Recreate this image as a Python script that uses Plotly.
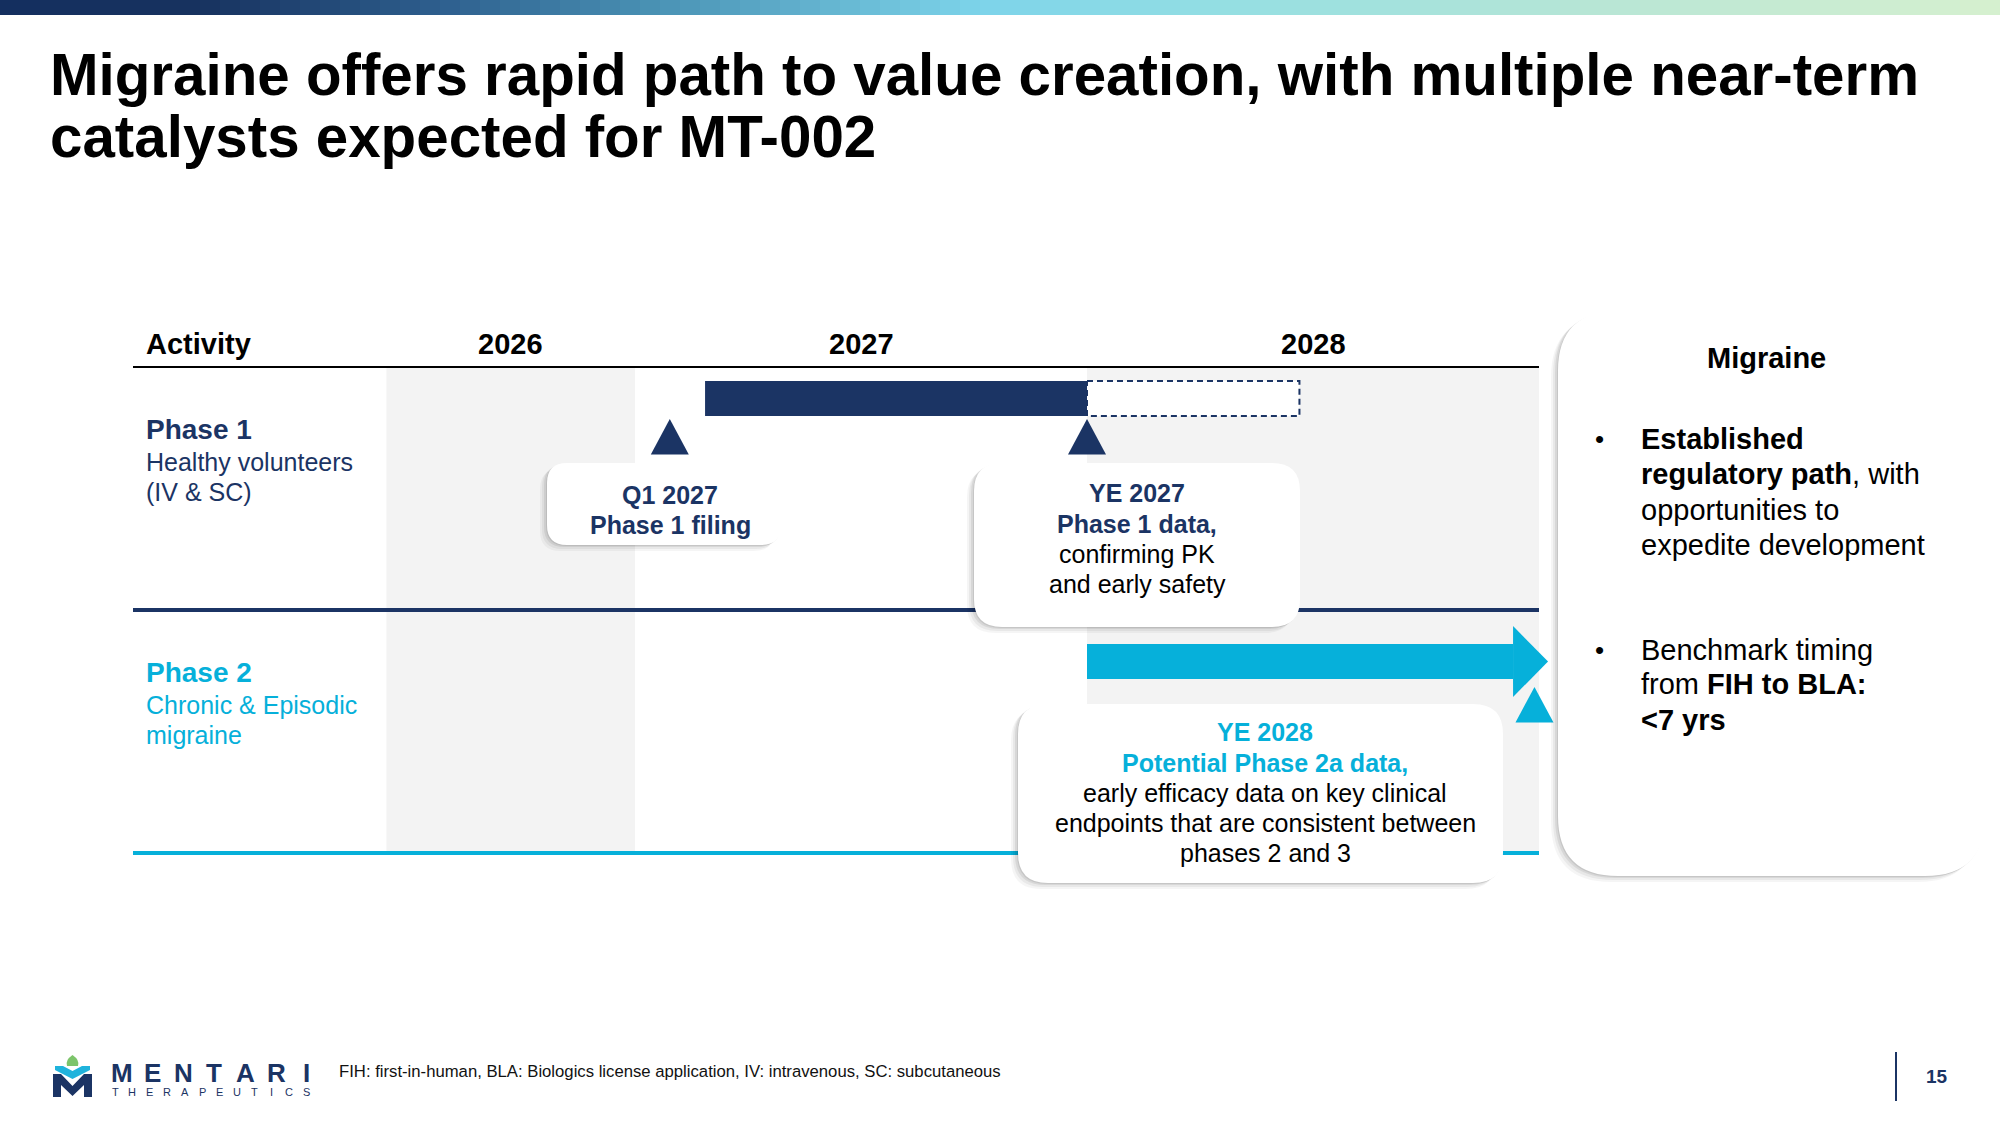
import plotly.graph_objects as go

# ---- data ---------------------------------------------------------------
title_lines = [
    "Migraine offers rapid path to value creation, with multiple near-term",
    "catalysts expected for MT-002",
]

years = ["2026", "2027", "2028"]
year_start = [2026.45, 2027.0, 2028.0]
year_end = [2027.0, 2028.0, 2029.0]
year_shaded = [True, False, True]

phases = ["Phase 1", "Phase 2"]
phase_desc = [["Healthy volunteers", "(IV & SC)"], ["Chronic & Episodic", "migraine"]]

# phase 1: ongoing (solid) then planned (dashed)
p1_start = 2027.155
p1_end = 2028.0
p1_planned_end = 2028.47
# phase 2: arrow that runs past the end of the timeline
p2_start = 2028.0
p2_end = 2029.02

milestone_dates = [2027.077, 2028.0, 2028.99]
milestone_rows = [0, 0, 1]
milestone_text = [
    ["<b>Q1 2027</b>", "<b>Phase 1 filing</b>"],
    ["<b>YE 2027</b>", "<b>Phase 1 data,</b>", "confirming PK", "and early safety"],
    ["<b>YE 2028</b>", "<b>Potential Phase 2a data,</b>", "early efficacy data on key clinical",
     "endpoints that are consistent between", "phases 2 and 3"],
]

panel_title = "Migraine"
panel_bullets = [
    ["<b>Established</b>", "<b>regulatory path</b>, with", "opportunities to", "expedite development"],
    ["Benchmark timing", "from <b>FIH to BLA:</b>", "<b>&lt;7 yrs</b>"],
]

footnote = "FIH: first-in-human, BLA: Biologics license application, IV: intravenous, SC: subcutaneous"
page_no = "15"

# ---- styling / layout ----------------------------------------------------
W, H = 2000, 1125
NAVY = "#1b3464"
CYAN = "#06b0da"
SHADE = "#f3f3f3"
FONT = "Liberation Sans, Arial, sans-serif"
phase_colors = [NAVY, CYAN]

# the axes cover the whole canvas: x in years, y in timeline rows (0 = top of phase 1)
PX_YR, X_2027 = 452.0, 635.0
PX_ROW, Y_ROW0 = 243.0, 367.0


def X(px):
    return 2027 + (px - X_2027) / PX_YR


def Y(px):
    return (px - Y_ROW0) / PX_ROW


def rounded(x0, x1, y0, y1, r):
    rx, ry = r / PX_YR, r / PX_ROW
    return (f"M{x0 + rx},{y0} L{x1 - rx},{y0} Q{x1},{y0} {x1},{y0 + ry} "
            f"L{x1},{y1 - ry} Q{x1},{y1} {x1 - rx},{y1} L{x0 + rx},{y1} "
            f"Q{x0},{y1} {x0},{y1 - ry} L{x0},{y0 + ry} Q{x0},{y0} {x0 + rx},{y0} Z")


def ppath(pts):
    return "M" + " L".join(f"{x / W},{1 - y / H}" for x, y in pts) + " Z"


BAR_H = 0.144
BAR_OFFSET = [0.13, 0.212]
TRI_OFFSET = [0.214, 0.317]
TRI_H = 0.146
TRI_HALF = 19 / PX_YR
HEAD_LEN = 35 / PX_YR
HEAD_HALF = 0.146
LEFT_TXT = 144  # left edge of row labels (px)

# callout boxes (pixel boxes, text centre, line positions)
callouts = [
    dict(box=(547, 781, 463, 545), r=20, cx=670, ly=[495, 525]),
    dict(box=(974, 1300, 463, 627), r=28, cx=1137, ly=[493, 524, 554, 584]),
    dict(box=(1018, 1503, 704, 883), r=30, cx=1265, ly=[732, 763, 793, 823, 853]),
]

fig = go.Figure()
shapes = []
ann = []

# top gradient band
stops = [(0, (20, 47, 95)), (0.1, (23, 50, 95)), (0.22, (46, 95, 142)), (0.33, (74, 147, 181)),
         (0.49, (125, 212, 234)), (0.62, (150, 223, 226)), (0.8, (184, 230, 213)), (1.0, (214, 240, 207))]


def grad(t):
    for (t0, c0), (t1, c1) in zip(stops[:-1], stops[1:]):
        if t <= t1:
            f = (t - t0) / (t1 - t0)
            return "rgb(%d,%d,%d)" % tuple(round(a + (b - a) * f) for a, b in zip(c0, c1))
    return "rgb(%d,%d,%d)" % stops[-1][1]


n = 100
for i in range(n):
    shapes.append(dict(type="rect", xref="paper", yref="paper", x0=i / n, x1=(i + 1) / n + 0.002,
                       y0=1 - 15 / H, y1=1, fillcolor=grad((i + 0.5) / n), line_width=0, layer="below"))

# title
for i, line in enumerate(title_lines):
    ann.append(dict(text=f"<b>{line}</b>", xref="paper", yref="paper", x=48 / W, y=1 - (75 + 62 * i) / H,
                    xanchor="left", yanchor="middle", showarrow=False,
                    font=dict(family=FONT, size=58.3, color="#000000")))

# shaded year columns
for s, e, sh in zip(year_start, year_end, year_shaded):
    if sh:
        shapes.append(dict(type="rect", xref="x", yref="y", x0=s, x1=e, y0=0, y1=2,
                           fillcolor=SHADE, line_width=0, layer="below"))

# header + row lines
t_left = X(133)
shapes.append(dict(type="line", xref="x", yref="y", x0=t_left, x1=year_end[-1], y0=0, y1=0,
                   line=dict(color="#000000", width=2), layer="below"))
for r, c in enumerate(phase_colors):
    shapes.append(dict(type="line", xref="x", yref="y", x0=t_left, x1=year_end[-1], y0=r + 1, y1=r + 1,
                       line=dict(color=c, width=4), layer="below"))

# header labels
hdr_y = Y(344)
ann.append(dict(text="<b>Activity</b>", x=X(LEFT_TXT), y=hdr_y, xanchor="left", yanchor="middle",
                xref="x", yref="y", showarrow=False, font=dict(family=FONT, size=29, color="#000000")))
for yl, s, e in zip(years, year_start, year_end):
    ann.append(dict(text=f"<b>{yl}</b>", x=(s + e) / 2, y=hdr_y, xanchor="center", yanchor="middle",
                    xref="x", yref="y", showarrow=False, font=dict(family=FONT, size=29, color="#000000")))

# phase labels
for r, (name, desc) in enumerate(zip(phases, phase_desc)):
    c = phase_colors[r]
    ann.append(dict(text=f"<b>{name}</b>", x=X(LEFT_TXT), y=r + 0.259, xanchor="left", yanchor="middle",
                    xref="x", yref="y", showarrow=False, font=dict(family=FONT, size=28, color=c)))
    for k, d in enumerate(desc):
        ann.append(dict(text=d, x=X(LEFT_TXT), y=r + 0.391 + 0.125 * k, xanchor="left", yanchor="middle",
                        xref="x", yref="y", showarrow=False, font=dict(family=FONT, size=25, color=c)))

# phase 1 bar (solid) + planned extension (dashed)
fig.add_trace(go.Bar(orientation="h", y=[BAR_OFFSET[0]], x=[p1_end - p1_start], base=[p1_start],
                     width=BAR_H, marker=dict(color=NAVY, line_width=0), hoverinfo="skip"))
b0, b1 = BAR_OFFSET[0] - BAR_H / 2, BAR_OFFSET[0] + BAR_H / 2
fig.add_trace(go.Scatter(x=[p1_end, p1_planned_end, p1_planned_end, p1_end, p1_end],
                         y=[b0, b0, b1, b1, b0], mode="lines", fill="toself", fillcolor="#ffffff",
                         line=dict(color=NAVY, width=2, dash="6px,4px"), hoverinfo="skip"))

# phase 2 arrow
fig.add_trace(go.Bar(orientation="h", y=[1 + BAR_OFFSET[1]], x=[p2_end - HEAD_LEN - p2_start], base=[p2_start],
                     width=BAR_H, marker=dict(color=CYAN, line_width=0), hoverinfo="skip"))
yc = 1 + BAR_OFFSET[1]
fig.add_trace(go.Scatter(x=[p2_end - HEAD_LEN, p2_end, p2_end - HEAD_LEN, p2_end - HEAD_LEN],
                         y=[yc - HEAD_HALF, yc, yc + HEAD_HALF, yc - HEAD_HALF],
                         fill="toself", fillcolor=CYAN, mode="lines", line=dict(width=0, color=CYAN),
                         hoverinfo="skip"))

# milestone triangles
for d, r in zip(milestone_dates, milestone_rows):
    top = r + TRI_OFFSET[r]
    fig.add_trace(go.Scatter(x=[d - TRI_HALF, d, d + TRI_HALF, d - TRI_HALF],
                             y=[top + TRI_H, top, top + TRI_H, top + TRI_H],
                             fill="toself", fillcolor=phase_colors[r], mode="lines",
                             line=dict(width=0, color=phase_colors[r]), hoverinfo="skip"))


def card(x0, x1, y0, y1, r, xref="x", yref="y"):
    out = []
    for ox, oy, a in [(-7, 6, 0.04), (-5, 4, 0.05), (-3, 2, 0.07), (-1, 1, 0.08)]:
        out.append(dict(type="path", xref=xref, yref=yref,
                        path=rounded(X(x0 + ox), X(x1 + ox), Y(y0 + oy), Y(y1 + oy), r),
                        fillcolor=f"rgba(0,0,0,{a})", line_width=0))
    out.append(dict(type="path", xref=xref, yref=yref, path=rounded(X(x0), X(x1), Y(y0), Y(y1), r),
                    fillcolor="#ffffff", line_width=0))
    return out


# callouts
for co, lines, r in zip(callouts, milestone_text, milestone_rows):
    x0, x1, y0, y1 = co["box"]
    shapes += card(x0, x1, y0, y1, co["r"])
    for txt, ly in zip(lines, co["ly"]):
        c = phase_colors[r] if txt.startswith("<b>") else "#000000"
        ann.append(dict(text=txt, x=X(co["cx"]), y=Y(ly), xanchor="center", yanchor="middle",
                        xref="x", yref="y", showarrow=False, font=dict(family=FONT, size=25, color=c)))

# right summary panel
shapes += card(1558, 1985, 311, 876, 60)
ann.append(dict(text=f"<b>{panel_title}</b>", x=X(1766), y=Y(358), xanchor="center", yanchor="middle",
                xref="x", yref="y", showarrow=False, font=dict(family=FONT, size=29, color="#000000")))
bullet_y = [[439, 474, 510, 545], [650, 684, 720]]
for lines, ys in zip(panel_bullets, bullet_y):
    ann.append(dict(text="•", x=X(1599), y=Y(ys[0]), xanchor="center", yanchor="middle",
                    xref="x", yref="y", showarrow=False, font=dict(family=FONT, size=26, color="#000000")))
    for txt, ly in zip(lines, ys):
        ann.append(dict(text=txt, x=X(1639), y=Y(ly), xanchor="left", yanchor="middle",
                        xref="x", yref="y", showarrow=False, font=dict(family=FONT, size=29, color="#000000")))

# footer: logo, footnote, page number
shapes.append(dict(type="path", xref="paper", yref="paper", fillcolor=NAVY, line_width=0,
                   path=ppath([(53, 1097), (53, 1074), (61, 1074), (72.5, 1086), (84, 1074), (92, 1074),
                               (92, 1097), (84, 1097), (84, 1085), (72.5, 1096), (61, 1085), (61, 1097)])))
shapes.append(dict(type="path", xref="paper", yref="paper", fillcolor="#1fb3dc", line_width=0,
                   path=ppath([(55, 1066), (63, 1066), (72.5, 1071), (82, 1066), (90, 1066),
                               (90, 1070), (72.5, 1079), (55, 1070)])))
shapes.append(dict(type="path", xref="paper", yref="paper", fillcolor="#7cc46a", line_width=0,
                   path=f"M{72.5 / W},{1 - 1055 / H} Q{80 / W},{1 - 1060 / H} {78 / W},{1 - 1066 / H} "
                        f"L{67 / W},{1 - 1066 / H} Q{65 / W},{1 - 1060 / H} {72.5 / W},{1 - 1055 / H} Z"))
for i, ch in enumerate("MENTARI"):
    ann.append(dict(text=f"<b>{ch}</b>", xref="paper", yref="paper", x=(122 + 30.8 * i) / W, y=1 - 1073 / H,
                    xanchor="center", yanchor="middle", showarrow=False,
                    font=dict(family=FONT, size=26, color=NAVY)))
for i, ch in enumerate("THERAPEUTICS"):
    ann.append(dict(text=ch, xref="paper", yref="paper", x=(115 + 17.4 * i) / W, y=1 - 1092 / H,
                    xanchor="center", yanchor="middle", showarrow=False,
                    font=dict(family=FONT, size=11, color=NAVY)))
ann.append(dict(text=footnote, xref="paper", yref="paper", x=337 / W, y=1 - 1071 / H, xanchor="left",
                yanchor="middle", showarrow=False, font=dict(family=FONT, size=16.7, color="#111111")))
shapes.append(dict(type="line", xref="paper", yref="paper", x0=1896 / W, x1=1896 / W, y0=1 - 1052 / H,
                   y1=1 - 1101 / H, line=dict(color=NAVY, width=2)))
ann.append(dict(text=f"<b>{page_no}</b>", xref="paper", yref="paper", x=1937 / W, y=1 - 1076 / H,
                xanchor="center", yanchor="middle", showarrow=False,
                font=dict(family=FONT, size=19, color=NAVY)))

fig.update_layout(
    width=W, height=H, margin=dict(l=0, r=0, t=0, b=0, pad=0),
    paper_bgcolor="#ffffff", plot_bgcolor="#ffffff",
    showlegend=False, barmode="overlay",
    xaxis=dict(range=[X(0), X(W)], domain=[0, 1], visible=False, fixedrange=True),
    yaxis=dict(range=[Y(H), Y(0)], domain=[0, 1], visible=False, fixedrange=True),
    shapes=shapes, annotations=ann,
)

# page body has a default 8px margin; drop it so the figure sits at the window origin
fig.write_html("out.html", config={"displayModeBar": False},
               post_script="document.body.style.margin='0px';")
